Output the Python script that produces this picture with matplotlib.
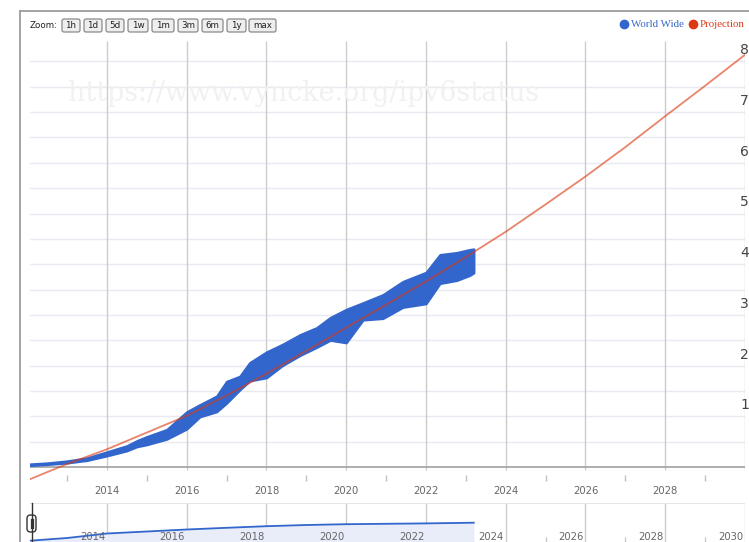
import matplotlib
matplotlib.use("Agg")
import matplotlib.pyplot as plt
from matplotlib import transforms
from matplotlib.lines import Line2D
from matplotlib.patches import FancyBboxPatch

plt.rcParams['font.family'] = ['DejaVu Sans']

# ---------------- data ----------------
ww_years = [2012.07, 2012.5, 2013.0, 2013.5, 2014.0, 2014.5, 2014.75, 2015.0, 2015.5,
            2016.0, 2016.33, 2016.75, 2017.0, 2017.33, 2017.58, 2018.0, 2018.4, 2018.84,
            2019.26, 2019.6, 2020.0, 2020.42, 2020.92, 2021.42, 2022.0, 2022.35,
            2022.77, 2023.1, 2023.2]
ww_low = [0.3, 0.5, 0.8, 1.3, 2.2, 3.2, 4.0, 4.4, 5.5,
          7.5, 9.9, 10.9, 12.6, 15.2, 17.0, 17.6, 20.0, 22.0,
          23.6, 25.0, 24.5, 29.0, 29.3, 31.5, 32.2, 36.2,
          36.8, 37.8, 38.3]
ww_high = [0.6, 0.8, 1.2, 1.8, 3.0, 4.2, 5.2, 6.0, 7.4,
           10.9, 12.3, 14.0, 16.9, 17.9, 20.6, 22.7, 24.2, 26.1,
           27.5, 29.5, 31.1, 32.4, 34.0, 36.6, 38.4, 41.9,
           42.3, 42.9, 43.0]

proj_years = [2012.07, 2013, 2014, 2015, 2016, 2017, 2018, 2019, 2020, 2021,
              2022, 2023, 2024, 2025, 2026, 2027, 2028, 2029, 2030]
proj_vals = [-2.4, 0.6, 3.5, 6.8, 10.1, 14.1, 18.4, 22.9, 27.5, 32.0,
             36.6, 41.4, 46.4, 51.8, 57.3, 63.1, 69.2, 75.2, 81.3]

nav_years = [2012.07, 2013, 2014, 2015, 2016, 2017, 2018, 2019, 2020, 2021, 2022, 2023.2]
nav_vals = [1.3, 4.0, 8.5, 10.5, 12.5, 14.2, 15.8, 17.0, 17.8, 18.2, 18.6, 19.3]

year_labels = [2014, 2016, 2018, 2020, 2022, 2024, 2026, 2028]
nav_labels = [2014, 2016, 2018, 2020, 2022, 2024, 2026, 2028, 2030]
y_label_vals = [10, 20, 30, 40, 50, 60, 70, 80]
y_label_text = ['1', '2', '3', '4', '5', '6', '7', '8']   # only the first digit is visible
zoom_buttons = ['1h', '1d', '5d', '1w', '1m', '3m', '6m', '1y', 'max']
series_names = ['World Wide', 'Projection']

BLUE = '#3366cc'
RED = '#dc3912'

# ---------------- figure ----------------
W, H = 749, 542
fig = plt.figure(figsize=(W / 100, H / 100), dpi=100)
fig.patch.set_facecolor('white')
px = transforms.Affine2D().scale(1 / W, -1 / H).translate(0, 1) + fig.transFigure


def fx(p):
    return p / W


def fy(p):
    return 1 - p / H


# main plot area
ax = fig.add_axes([fx(30), fy(482), (745 - 30) / W, (482 - 41) / H])
ax.set_xlim(2012.07, 2030.0)
PPP = 5.07  # pixels per percent
ax.set_ylim(-15 / PPP, 426 / PPP)
for s in ax.spines.values():
    s.set_visible(False)
ax.set_facecolor('none')

# horizontal grid
for v in range(5, 85, 5):
    ax.axhline(v, color='#e9e9f2', lw=1.0, zorder=0)
# vertical grid
grid_years = list(range(2014, 2031, 2))
ax.vlines(grid_years, -0.6, 84, colors='#cccccc', lw=1.0, zorder=1)
# axis line
ax.axhline(0, color='#a8a8a8', lw=1.3, zorder=2)
# minor ticks
ax.vlines(list(range(2013, 2030, 2)), -8 / PPP, -14 / PPP, colors='#c0c0c0', lw=1.0, zorder=2)

# series
ax.fill_between(ww_years, ww_low, ww_high, color=BLUE, lw=1.6, edgecolor=BLUE, zorder=3)
ax.plot(proj_years, proj_vals, color=RED, alpha=0.62, lw=1.3, zorder=4)

ax.set_xticks(year_labels)
ax.set_xticklabels([str(y) for y in year_labels], fontsize=7.2, color='#666666')
ax.tick_params(axis='x', length=0, pad=3)
ax.set_yticks([])

# right labels
lab_tr = transforms.blended_transform_factory(fig.transFigure, ax.transData) + \
    transforms.ScaledTranslation(0, 11 / 100, fig.dpi_scale_trans)
for v, t in zip(y_label_vals, y_label_text):
    fig.text(fx(740), v, t, transform=lab_tr, ha='left', va='center',
             fontsize=10, color='#444444')

# watermark
fig.text(68, 101, "https://www.vyncke.org/ipv6status", transform=px, fontsize=19.4,
         family='DejaVu Serif', color='#f1f1f1', ha='left', va='baseline', zorder=0)

# navigator
nav = fig.add_axes([fx(30), 0, (745 - 30) / W, (542 - 503) / H])
nav.set_xlim(2012.07, 2030.0)
nav.set_ylim(0, 39)
for s in nav.spines.values():
    s.set_visible(False)
nav.set_xticks([])
nav.set_yticks([])
nav.set_facecolor('none')
nav.axhline(39, color='#e2e2e2', lw=1.2)
nav.vlines(nav_labels, 0, 39, colors='#cccccc', lw=1.0, zorder=1)
nav.vlines(list(range(2013, 2030, 2)), 0, 5, colors='#c8c8c8', lw=1.0, zorder=1)
nav.fill_between(nav_years, nav_vals, 0, color='#e8edf9', lw=0, zorder=2)
nav.plot(nav_years, nav_vals, color=BLUE, lw=1.3, zorder=3)
for y in nav_labels:
    nav.text(y - 14.5 / 39.88, 5, str(y), ha='center', va='center', fontsize=7.2,
             color='#666666', zorder=4)

# navigator handle
fig.add_artist(Line2D([31.5, 31.5], [503, 542], transform=px, color='#333333', lw=1.0))
fig.add_artist(FancyBboxPatch((27, 515), 9, 17, boxstyle='round,pad=0,rounding_size=3.5',
                              transform=px, facecolor='white', edgecolor='#333333', lw=1.0))
fig.add_artist(Line2D([30.5, 30.5], [519, 528], transform=px, color='#333333', lw=0.9))
fig.add_artist(Line2D([32.7, 32.7], [519, 528], transform=px, color='#333333', lw=0.9))

# outer border
fig.add_artist(Line2D([20, 749], [11, 11], transform=px, color='#9c9c9c', lw=1.3))
fig.add_artist(Line2D([20, 20], [11, 542], transform=px, color='#9c9c9c', lw=1.3))

# zoom buttons
fig.text(30, 25.5, "Zoom:", transform=px, fontsize=6.3, color='#222222', ha='left', va='center')
btn_x = [(62, 80), (84, 102), (106, 124), (128, 148), (152, 174), (178, 198),
         (202, 223), (227, 246), (249, 276)]
for lbl, (x0, x1) in zip(zoom_buttons, btn_x):
    fig.add_artist(FancyBboxPatch((x0, 19), x1 - x0, 13, boxstyle='round,pad=0,rounding_size=2',
                                  transform=px, facecolor='#eeeeee', edgecolor='#8a8a8a', lw=0.9))
    fig.text((x0 + x1) / 2, 25.7, lbl, transform=px, fontsize=6.3, color='#222222',
             ha='center', va='center')

# legend
for (cx, tx), name, col in zip([(623.5, 631), (693, 700)], series_names, [BLUE, RED]):
    fig.add_artist(Line2D([cx], [24], transform=px, marker='o', markersize=6,
                          color=col, lw=0))
    fig.text(tx, 24.5, name, transform=px, fontsize=7.8, family='Liberation Serif',
             color=col, ha='left', va='center')

fig.savefig('out.png', dpi=100)
